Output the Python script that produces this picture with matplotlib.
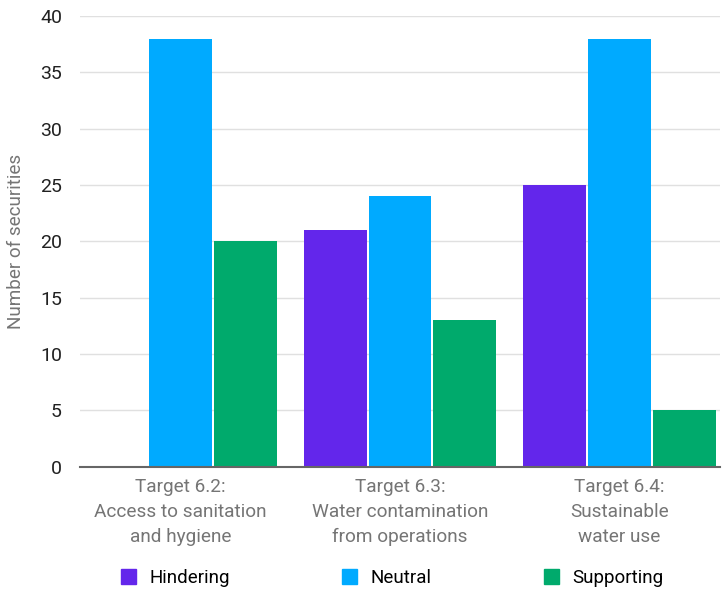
import numpy as np
import matplotlib
matplotlib.use("Agg")
import matplotlib.pyplot as plt
from matplotlib.patches import Patch

plt.rcParams['font.family'] = ['Roboto', 'DejaVu Sans']

# data
categories = ["Target 6.2:\nAccess to sanitation\nand hygiene",
              "Target 6.3:\nWater contamination\nfrom operations",
              "Target 6.4:\nSustainable\nwater use"]
series_names = ["Hindering", "Neutral", "Supporting"]
hindering = [0, 21, 25]
neutral = [38, 24, 38]
supporting = [20, 13, 5]
colors = ["#6326EB", "#00AAFF", "#00AA6C"]

fig = plt.figure(figsize=(7.22, 5.92), dpi=100)
ax = fig.add_axes([80 / 722, 1 - 466.6 / 592, 640 / 722, 450.6 / 592])

x = np.arange(len(categories))
step = 0.296
width = 0.287
for i, (vals, col) in enumerate(zip([hindering, neutral, supporting], colors)):
    ax.bar(x + (i - 1) * step, vals, width, color=col, zorder=2)

ax.set_xlim(-0.458, 2.458)
ax.set_ylim(0, 40)
ax.set_yticks(np.arange(0, 41, 5))
ax.grid(axis='y', color='#e0e0e0', linewidth=1, zorder=0)
for s in ['top', 'right', 'left']:
    ax.spines[s].set_visible(False)
ax.spines['bottom'].set_color('#666666')
ax.spines['bottom'].set_linewidth(1.5)
ax.spines['bottom'].set_zorder(3)

ax.set_xticks(x)
ax.set_xticklabels(categories, fontsize=13.7, color='#757575', linespacing=1.48)
ax.tick_params(axis='x', length=0, pad=8.5)
ax.tick_params(axis='y', length=0, pad=13, labelsize=14, labelcolor='#212121')

fig.text(16 / 722, 1 - 241 / 592, "Number of securities", rotation=90,
         fontsize=13.6, color='#757575', ha='center', va='center')

handles = [Patch(color=c, label=n) for c, n in zip(colors, series_names)]
fig.legend(handles=handles, loc='center', bbox_to_anchor=(392 / 722, 1 - 578 / 592),
           ncol=3, frameon=False, fontsize=13.5, handlelength=0.8, handleheight=0.8,
           handletextpad=0.7, columnspacing=6.0, borderaxespad=0)

fig.savefig("out.png", dpi=100)
